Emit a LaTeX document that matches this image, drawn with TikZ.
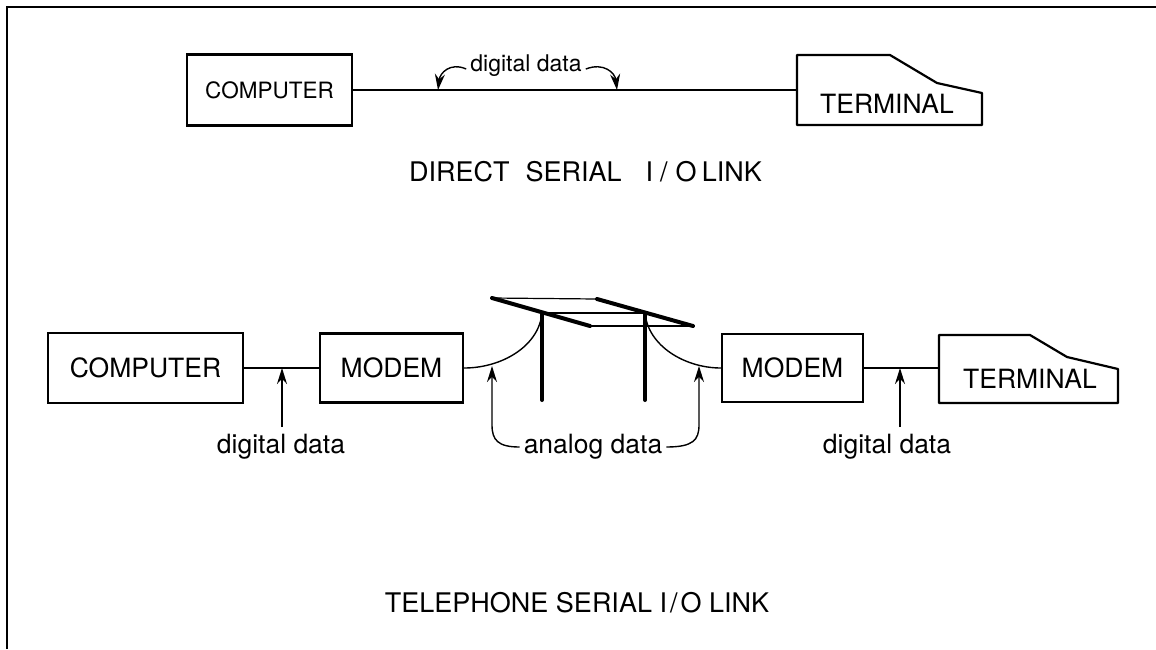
\documentclass[tikz,border=0pt]{standalone}
\usepackage{fontspec}
\setmainfont{TeX Gyre Heros}
\usetikzlibrary{arrows.meta}
\begin{document}
\begin{tikzpicture}[x=1pt,y=-1pt,
  box/.style={draw, line width=2.2pt, inner sep=0pt, font=\fontsize{26.5}{30}\selectfont},
  frame/.style={inner sep=0pt, draw=none},
  outline/.style={line width=2.2pt, line join=round},
  wire/.style={line width=1.4pt},
  pole/.style={line width=4pt, line cap=round},
  thinwire/.style={line width=1.2pt},
  arr/.style={line width=1.4pt, -{Stealth[length=16pt,width=10pt]}},
  lbl/.style={font=\fontsize{26.5}{30}\selectfont, inner sep=4pt},
  caption/.style={font=\fontsize{27}{30}\selectfont, inner sep=0pt}]
\useasboundingbox (0,0) rectangle (1156,649);

% outer frame (top and left edges)
\draw[line width=2.5pt] (7,649) -- (7,7) -- (1156,7);

% ---------------- direct link ----------------
\node[box, minimum width=165pt, minimum height=71pt,
      font=\fontsize{22.5}{26}\selectfont] (c1) at (269.5,90) {COMPUTER};
\node[frame, minimum width=185pt, minimum height=70pt] (t1) at (889.5,90) {};
\draw[outline] (797,55) -- (890,55) -- (937,83) -- (982,93) -- (982,125) -- (797,125) -- cycle;
\node[caption, font=\fontsize{26.5}{30}\selectfont] (t1txt) at (887,104) {TERMINAL};
\draw[wire] (c1.east) -- (t1.west);

\node[lbl, font=\fontsize{23}{26}\selectfont] (dt) at (526,66) {digital data};
\coordinate (k1) at (438,90);
\coordinate (k2) at (617,90);
\draw[arr] ([yshift=-3pt]dt.west) .. controls (450,62) and (440,73) .. (k1);
\draw[arr] ([yshift=-3pt]dt.east) .. controls (604,62) and (615,73) .. (k2);

\node[caption, anchor=west] (cap1) at (409,172)
  {DIRECT\hspace{16pt}SERIAL\hspace{24pt}I\kern7pt/\kern8pt O\hspace{5pt}LINK};

% ---------------- telephone link ----------------
\node[box, minimum width=195pt, minimum height=70pt] (c2) at (145.5,368) {COMPUTER};
\node[box, minimum width=143pt, minimum height=69pt] (m1) at (391.5,368) {MODEM};
\node[box, minimum width=141pt, minimum height=68pt] (m2) at (792.5,368) {MODEM};
\node[frame, minimum width=179pt, minimum height=68pt] (t2) at (1028.5,368) {};
\draw[outline] (939,335) -- (1030,335) -- (1067,357) -- (1118,369) -- (1118,403) -- (939,403) -- cycle;
\node[caption, font=\fontsize{26.5}{30}\selectfont] (t2txt) at (1030,379) {TERMINAL};

\draw[wire] (c2.east) -- (m1.west);
\draw[wire] (m2.east) -- (t2.west);

% telephone poles with cross arms and wires
\coordinate (p1) at (542,313);
\coordinate (p2) at (645,313);
\draw[pole] (p1) -- (542,400);
\draw[pole] (p2) -- (645,400);
\draw[pole] (492,298) -- (590,326);
\draw[pole] (597,299) -- (693,326);
\draw[thinwire] (492,298) -- (597,299);
\draw[thinwire] (p1) -- (p2);
\draw[thinwire] (590,326) -- (693,326);

\draw[wire] (m1.east) .. controls (502,368) and (539,346) .. (p1);
\draw[wire] (p2) .. controls (648,346) and (685,368) .. (m2.west);

% labels and pointers
\node[lbl] (dd1) at (281,447) {digital data};
\node[lbl] (dd2) at (887,447) {digital data};
\node[lbl] (ad) at (593,447) {analog data};

\coordinate (a1) at (282,427);
\coordinate (a4) at (900,427);
\draw[arr] (a1) -- (a1 |- c2.east);
\draw[arr] (a4) -- (a4 |- m2.east);

\coordinate (a2) at (492,366);
\coordinate (a3) at (699,366);
\draw[arr] (ad.west) .. controls (498,447) and (492,440) .. (492,425) -- (a2);
\draw[arr] (ad.east) .. controls (693,447) and (699,440) .. (699,425) -- (a3);

\node[caption] (cap2) at (577,603) {TELEPHONE SERIAL I\kern3pt/\kern3pt O LINK};
\end{tikzpicture}
\end{document}
